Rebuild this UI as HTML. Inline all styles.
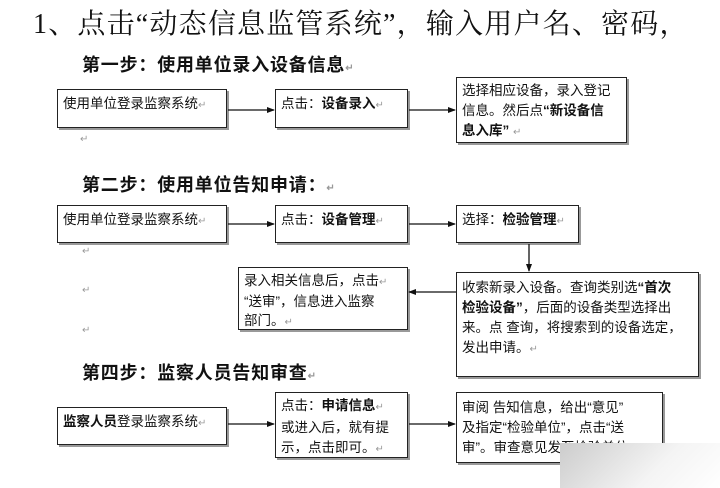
<!DOCTYPE html>
<html><head><meta charset="utf-8"><style>
body{margin:0;width:720px;height:488px;background:#fff;position:relative;overflow:hidden;font-family:"Liberation Serif","Noto Serif CJK SC","Noto Sans CJK SC",serif;color:#111}
.t{position:absolute;white-space:nowrap}
.h{font-weight:bold;font-size:18px;letter-spacing:0.8px;font-family:"Liberation Sans","Noto Sans CJK SC",sans-serif}
.b{position:absolute;border:1.5px solid #222;box-sizing:border-box;font-size:13.5px;line-height:21px;padding:3px 5px;box-shadow:2px 2px 0 #999;font-family:"Liberation Sans","Noto Sans CJK SC",sans-serif;background:#fff;white-space:nowrap;overflow:hidden}
.r{font-size:10px;color:#999}
svg{position:absolute;left:0;top:0}
</style></head><body>
<div class="t" style="left:33px;top:2px;font-size:28px;letter-spacing:1.2px;font-family:'Liberation Serif','Noto Serif CJK SC',serif">1、点击“动态信息监管系统”，输入用户名、密码，</div>
<div class="t h" style="left:82px;top:51px">第一步：使用单位录入设备信息<span class="r">↵</span></div>
<div class="b" style="left:57px;top:89px;width:170px;height:39px">使用单位登录监察系统<span class="r">↵</span></div>
<div class="b" style="left:275px;top:89px;width:133px;height:39px">点击：<b>设备录入</b><span class="r">↵</span></div>
<div class="b" style="left:456px;top:77px;width:171px;height:66px;line-height:20px">选择相应设备，录入登记<br>信息。然后点<b>“新设备信</b><br><b>息入库”</b> <span class="r">↵</span></div>
<div class="t r" style="left:80px;top:134px">↵</div>
<div class="t h" style="left:82px;top:171px">第二步：使用单位告知申请：<span class="r">↵</span></div>
<div class="b" style="left:57px;top:205px;width:170px;height:38px">使用单位登录监察系统<span class="r">↵</span></div>
<div class="b" style="left:275px;top:205px;width:133px;height:38px">点击：<b>设备管理</b><span class="r">↵</span></div>
<div class="b" style="left:456px;top:205px;width:123px;height:38px">选择：<b>检验管理</b><span class="r">↵</span></div>
<div class="b" style="left:238px;top:267px;width:170px;height:63px;line-height:19px">录入相关信息后，点击<span class="r">↵</span><br>“送审”，信息进入监察<br>部门。<span class="r">↵</span></div>
<div class="b" style="left:456px;top:272px;width:243px;height:105px;line-height:20px;padding-top:5px">收索新录入设备。查询类别选<b>“首次</b><br><b>检验设备”</b>，后面的设备类型选择出<br>来。点 查询，将搜索到的设备选定，<br>发出申请。<span class="r">↵</span></div>
<div class="t r" style="left:82px;top:246px">↵</div>
<div class="t r" style="left:82px;top:285px">↵</div>
<div class="t r" style="left:82px;top:325px">↵</div>
<div class="t h" style="left:82px;top:359px">第四步：监察人员告知审查<span class="r">↵</span></div>
<div class="b" style="left:57px;top:407px;width:170px;height:38px"><b>监察人员</b>登录监察系统<span class="r">↵</span></div>
<div class="b" style="left:275px;top:392px;width:133px;height:66px;line-height:20px">点击：<b>申请信息</b><span class="r">↵</span><br>或进入后，就有提<br>示，点击即可。<span class="r">↵</span></div>
<div class="b" style="left:456px;top:392px;width:207px;height:71px;line-height:20px;padding-top:5px">审阅 告知信息，给出“意见”<br>及指定“检验单位”，点击“送<br>审”。审查意见发至检验单位</div>
<div style="position:absolute;left:560px;top:443px;width:160px;height:45px;background:linear-gradient(135deg,#ccc,#f4f4f4 60%,#fff)"></div>
<svg width="720" height="488">
<defs><marker id="a" markerWidth="8" markerHeight="8" refX="7" refY="4" orient="auto" markerUnits="userSpaceOnUse"><path d="M0,1 L8,4 L0,7z" fill="#111"/></marker></defs>
<g stroke="#111" stroke-width="1.3" marker-end="url(#a)">
<line x1="228" y1="110" x2="274" y2="110"/>
<line x1="409" y1="110" x2="455" y2="110"/>
<line x1="228" y1="224" x2="274" y2="224"/>
<line x1="409" y1="224" x2="455" y2="224"/>
<line x1="529" y1="244" x2="529" y2="271"/>
<line x1="456" y1="292" x2="409" y2="292"/>
<line x1="228" y1="424" x2="274" y2="424"/>
<line x1="409" y1="424" x2="455" y2="424"/>
</g></svg>
</body></html>
